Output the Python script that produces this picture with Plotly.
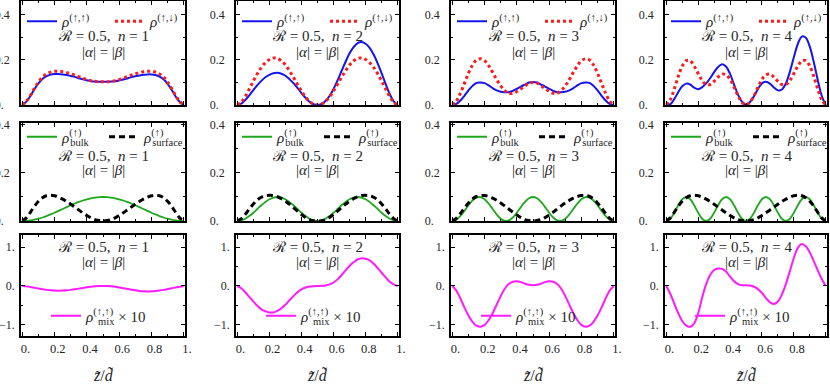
import plotly.graph_objects as go

# ---------------- data ----------------
z = [0.0, 0.025, 0.05, 0.075, 0.1, 0.125, 0.15, 0.175, 0.2, 0.225, 0.25, 0.275, 0.3, 0.325, 0.35,
     0.375, 0.4, 0.425, 0.45, 0.475, 0.5, 0.525, 0.55, 0.575, 0.6, 0.625, 0.65, 0.675, 0.7, 0.725,
     0.75, 0.775, 0.8, 0.825, 0.85, 0.875, 0.9, 0.925, 0.95, 0.975, 1.0]

n_values = [1, 2, 3, 4]
xtick_vals = [0, 0.2, 0.4, 0.6, 0.8, 1.0]
xtick_text = ["0.", "0.2", "0.4", "0.6", "0.8", "1."]
rho_tick_vals = [0, 0.2, 0.4]
rho_tick_text = ["0.", "0.2", "0.4"]
mix_tick_vals = [-1, 0, 1]
mix_tick_text = ["\u22121.", "0.", "1."]

# n = 1
uu_n1 = [0, .015, .040, .070, .096, .116, .128, .135, .138, .138, .136, .133, .129, .125, .119, .114, .110, .106, .104, .103, .103,
         .103, .104, .106, .109, .113, .118, .124, .128, .131, .134, .136, .136, .133, .126, .114, .094, .068, .038, .014, 0]
ud_n1 = [0, .016, .042, .074, .102, .124, .138, .146, .150, .150, .148, .144, .139, .133, .126, .119, .113, .108, .105, .103, .103,
         .103, .105, .108, .113, .119, .126, .133, .139, .144, .148, .150, .150, .146, .138, .124, .102, .074, .042, .016, 0]
bulk_n1 = [0, .0006, .0024, .0055, .0095, .0146, .0206, .0273, .0345, .0422, .05, .0578, .0655, .0727, .0794, .0854, .0905, .0946, .0976, .0994, .1,
           .0994, .0976, .0946, .0905, .0854, .0794, .0727, .0655, .0578, .05, .0422, .0345, .0273, .0206, .0146, .0095, .0055, .0024, .0006, 0]
surf_n1 = [0, .013, .036, .061, .082, .097, .105, .107, .105, .099, .091, .081, .070, .058, .046, .034, .023, .013, .006, .002, 0,
           .002, .006, .013, .023, .034, .046, .058, .070, .081, .091, .099, .105, .107, .105, .097, .082, .061, .036, .013, 0]
mix_n1 = [0, -.010, -.025, -.045, -.065, -.085, -.100, -.112, -.118, -.120, -.118, -.112, -.100, -.085, -.068, -.050, -.033, -.018, -.007, -.002, 0,
          -.002, -.008, -.020, -.037, -.056, -.076, -.095, -.112, -.126, -.136, -.140, -.138, -.130, -.117, -.100, -.080, -.059, -.038, -.018, 0]

# n = 2
uu_n2 = [0, .006, .022, .043, .066, .088, .107, .123, .134, .141, .143, .139, .130, .115, .097, .076, .053, .032, .0145, .0035, 0,
         .0045, .0175, .040, .071, .109, .151, .192, .230, .257, .275, .280, .272, .254, .224, .185, .140, .093, .049, .016, 0]
ud_n2 = [0, .012, .038, .071, .106, .139, .167, .188, .202, .209, .207, .196, .178, .152, .123, .092, .062, .036, .016, .004, 0,
         .004, .016, .036, .062, .092, .123, .152, .178, .196, .207, .209, .202, .188, .167, .139, .106, .071, .038, .012, 0]
bulk_n2 = [0, .0024, .0095, .0206, .0345, .05, .0655, .0794, .0905, .0976, .1, .0976, .0905, .0794, .0655, .05, .0345, .0206, .0095, .0024, 0,
           .0024, .0095, .0206, .0345, .05, .0655, .0794, .0905, .0976, .1, .0976, .0905, .0794, .0655, .05, .0345, .0206, .0095, .0024, 0]
surf_n2 = [0, .010, .028, .050, .071, .088, .099, .105, .107, .106, .101, .093, .083, .070, .056, .041, .027, .015, .006, .001, 0,
           .001, .006, .015, .027, .041, .056, .070, .083, .093, .101, .106, .107, .105, .099, .088, .071, .050, .028, .010, 0]
mix_n2 = [0, -.06, -.16, -.28, -.40, -.51, -.60, -.65, -.68, -.68, -.64, -.57, -.48, -.37, -.26, -.16, -.09, -.04, -.015, -.005, 0,
          .005, .015, .04, .09, .17, .28, .40, .52, .61, .68, .71, .70, .66, .57, .46, .34, .22, .11, .04, 0]

# n = 3
uu_n3 = [0, .005, .020, .041, .065, .085, .098, .100, .097, .087, .075, .065, .059, .057, .057, .063, .072, .082, .091, .100, .102,
         .100, .091, .082, .072, .063, .057, .057, .059, .065, .075, .087, .097, .100, .098, .085, .065, .041, .020, .005, 0]
ud_n3 = [0, .017, .052, .096, .141, .177, .200, .205, .197, .175, .145, .113, .085, .064, .052, .052, .060, .072, .085, .097, .100,
         .097, .085, .072, .060, .052, .052, .064, .085, .113, .145, .175, .197, .205, .200, .177, .141, .096, .052, .017, 0]
bulk_n3 = [0, .0055, .0206, .0422, .0655, .0854, .0976, .0994, .0905, .0727, .05, .0273, .0095, .0006, .0024, .0146, .0345, .0578, .0794, .0946, .1,
           .0946, .0794, .0578, .0345, .0146, .0024, .0006, .0095, .0273, .05, .0727, .0905, .0994, .0976, .0854, .0655, .0422, .0206, .0055, 0]
surf_n3 = [0, .011, .031, .054, .075, .092, .102, .106, .106, .102, .095, .086, .075, .063, .050, .037, .025, .014, .006, .002, 0,
           .002, .006, .014, .025, .037, .050, .063, .075, .086, .095, .102, .106, .106, .102, .092, .075, .054, .031, .011, 0]
mix_n3 = [0, -.12, -.32, -.55, -.76, -.92, -1.02, -1.05, -1.00, -.88, -.70, -.48, -.26, -.07, .05, .11, .12, .10, .06, .03, .02,
          .03, .06, .10, .12, .11, .05, -.07, -.26, -.48, -.70, -.88, -1.00, -1.05, -1.02, -.92, -.76, -.55, -.32, -.12, 0]

# n = 4
uu_n4 = [0, .003, .026, .057, .083, .095, .091, .077, .070, .079, .096, .119, .146, .169, .181, .171, .138, .091, .046, .014, .002,
         .013, .039, .071, .096, .103, .095, .078, .065, .069, .096, .147, .212, .271, .304, .299, .259, .191, .111, .041, 0]
ud_n4 = [0, .023, .071, .127, .173, .197, .196, .173, .140, .109, .091, .091, .105, .124, .137, .134, .114, .079, .041, .012, 0,
         .012, .041, .079, .114, .134, .137, .124, .105, .091, .091, .109, .140, .173, .196, .197, .173, .127, .071, .023, 0]
bulk_n4 = [0, .0095, .0345, .0655, .0905, .1, .0905, .0655, .0345, .0095, 0, .0095, .0345, .0655, .0905, .1, .0905, .0655, .0345, .0095, 0,
           .0095, .0345, .0655, .0905, .1, .0905, .0655, .0345, .0095, 0, .0095, .0345, .0655, .0905, .1, .0905, .0655, .0345, .0095, 0]
surf_n4 = [0, .013, .036, .061, .082, .097, .105, .107, .105, .099, .091, .081, .070, .058, .046, .034, .023, .013, .006, .002, 0,
           .002, .006, .013, .023, .034, .046, .058, .070, .081, .091, .099, .105, .107, .105, .097, .082, .061, .036, .013, 0]
mix_n4 = [0, -.20, -.45, -.70, -.90, -1.02, -1.05, -.96, -.70, -.30, .05, .28, .41, .45, .44, .37, .24, .12, .05, .02, .02,
          .01, -.02, -.08, -.18, -.31, -.42, -.46, -.40, -.22, .05, .38, .72, .98, 1.08, 1.02, .86, .64, .40, .18, 0]

uu_all = [uu_n1, uu_n2, uu_n3, uu_n4]
ud_all = [ud_n1, ud_n2, ud_n3, ud_n4]
bulk_all = [bulk_n1, bulk_n2, bulk_n3, bulk_n4]
surf_all = [surf_n1, surf_n2, surf_n3, surf_n4]
mix_all = [mix_n1, mix_n2, mix_n3, mix_n4]

# ---------------- layout geometry ----------------
W, H = 830, 384
col_px = [(21, 185), (236, 399), (451, 615), (665, 827)]
row_px = [(1, 105), (123, 221), (235, 336)]
row_ranges = [[0, 0.462], [0, 0.408], [-1.285, 1.31]]

FONT = "Liberation Serif, DejaVu Serif, serif"
TXT = "#262626"

BLUE = "#1414f0"
RED = "#ff1a1a"
GREEN = "#1fa81f"
BLACK = "#000000"
MAGENTA = "#ff1aff"

FIG_SP = "\u2007"   # digit-wide space, keeps decimal points aligned
EN_SP = "\u2002"

def px_x(p):
    return p / W

def px_y(p):
    return 1 - p / H

stack = '<span style="letter-spacing:{}px">\u00a0</span>'
lab_uu = "<i>ρ</i><sup>(↑,↑)</sup>"
lab_ud = "<i>ρ</i><sup>(↑,↓)</sup>"
lab_bulk = "<i>ρ</i><sup>(↑)</sup>" + stack.format(-15) + "<sub>bulk</sub>"
lab_surf = "<i>ρ</i><sup>(↑)</sup>" + stack.format(-15) + "<sub>surface</sub>"
lab_mix = "<i>ρ</i><sup>(↑,↑)</sup>" + stack.format(-19) + "<sub>mix</sub>\u00a0× 10"

rho_tick_shown = [t + FIG_SP if len(t) == 2 else t for t in rho_tick_text]
x_tick_shown = [EN_SP + t for t in xtick_text]

fig = go.Figure()
layout = dict(width=W, height=H, margin=dict(l=0, r=0, t=0, b=0, autoexpand=False),
              paper_bgcolor="white", plot_bgcolor="white",
              font=dict(family=FONT, size=12, color=TXT), showlegend=True)
annotations = []

idx = 0
for r in range(3):
    for c in range(4):
        idx += 1
        xs = "x" if idx == 1 else f"x{idx}"
        ys = "y" if idx == 1 else f"y{idx}"
        xa = "xaxis" if idx == 1 else f"xaxis{idx}"
        ya = "yaxis" if idx == 1 else f"yaxis{idx}"
        lg = "legend" if idx == 1 else f"legend{idx}"
        x0, x1 = col_px[c]
        y0, y1 = row_px[r]
        layout[xa] = dict(domain=[px_x(x0), px_x(x1)], range=[-0.008, 1.008], anchor=ys,
                          showline=True, linecolor="black", linewidth=1.6, mirror="ticks",
                          ticks="inside", ticklen=4, tickwidth=1, tickcolor="black",
                          tickmode="array", tickvals=xtick_vals, ticktext=x_tick_shown,
                          showticklabels=(r == 2), showgrid=False, zeroline=False,
                          tickfont=dict(family=FONT, size=12.5, color=TXT),
                          minor=dict(ticks="inside", ticklen=2, tickcolor="black",
                                     tickvals=[0.1, 0.3, 0.5, 0.7, 0.9]))
        if r < 2:
            tv, tt = rho_tick_vals, rho_tick_shown
            mv = [0.1, 0.3]
            stand = 7
        else:
            tv, tt = mix_tick_vals, mix_tick_text
            mv = [-0.5, 0.5]
            stand = 2
        layout[ya] = dict(domain=[px_y(y1), px_y(y0)], range=row_ranges[r], anchor=xs,
                          showline=True, linecolor="black", linewidth=1.6, mirror="ticks",
                          ticks="inside", ticklen=4, tickwidth=1, tickcolor="black",
                          tickmode="array", tickvals=tv, ticktext=tt, ticklabelstandoff=stand,
                          showgrid=False, zeroline=False,
                          tickfont=dict(family=FONT, size=12, color=TXT),
                          minor=dict(ticks="inside", ticklen=2, tickcolor="black", tickvals=mv))
        n = n_values[c]
        if r == 0:
            fig.add_trace(go.Scatter(x=z, y=uu_all[c], mode="lines", name=lab_uu, legend=lg,
                                     line=dict(color=BLUE, width=2, shape="spline"),
                                     xaxis=xs, yaxis=ys))
            fig.add_trace(go.Scatter(x=z, y=ud_all[c], mode="lines", name=lab_ud, legend=lg,
                                     line=dict(color=RED, width=3, dash="dot", shape="spline"),
                                     xaxis=xs, yaxis=ys))
            leg_y = 21.5
            leg_x = x0 + 1
            ew = 43
        elif r == 1:
            fig.add_trace(go.Scatter(x=z, y=bulk_all[c], mode="lines", name=lab_bulk, legend=lg,
                                     line=dict(color=GREEN, width=1.8, shape="spline"),
                                     xaxis=xs, yaxis=ys))
            fig.add_trace(go.Scatter(x=z, y=surf_all[c], mode="lines", name=lab_surf, legend=lg,
                                     line=dict(color=BLACK, width=3, dash="6px,4px", shape="spline"),
                                     xaxis=xs, yaxis=ys))
            leg_y = 137
            leg_x = x0 + 1
            ew = 37
        else:
            fig.add_trace(go.Scatter(x=z, y=mix_all[c], mode="lines", name=lab_mix, legend=lg,
                                     line=dict(color=MAGENTA, width=2, shape="spline"),
                                     xaxis=xs, yaxis=ys))
            leg_y = 316
            leg_x = x0 + 25
            ew = None
        leg = dict(x=px_x(leg_x), y=px_y(leg_y), xanchor="left", yanchor="middle",
                   orientation="h", bgcolor="rgba(0,0,0,0)", borderwidth=0,
                   font=dict(family=FONT, size=15, color=TXT), itemwidth=30,
                   traceorder="normal", tracegroupgap=0)
        if ew:
            leg["entrywidth"] = ew
            leg["entrywidthmode"] = "pixels"
        layout[lg] = leg

        # panel parameter labels
        cx = px_x((x0 + x1) / 2)
        l1 = [36, 156.5, 246.5][r]
        l2 = [51.5, 170, 261.5][r]
        annotations.append(dict(xref="paper", yref="paper", x=cx, y=px_y(l1),
                                text=f"ℛ = 0.5,  <i>n</i> = {n}", showarrow=False,
                                xanchor="center", yanchor="middle",
                                font=dict(family=FONT, size=15, color=TXT)))
        annotations.append(dict(xref="paper", yref="paper", x=cx, y=px_y(l2),
                                text="|<i>α</i>| = |<i>β</i>|", showarrow=False,
                                xanchor="center", yanchor="middle",
                                font=dict(family=FONT, size=15, color=TXT)))
        if r == 2:
            annotations.append(dict(xref="paper", yref="paper", x=cx, y=px_y(375),
                                    text="<i>z\u0303</i>/<i>d\u0303</i>", showarrow=False,
                                    xanchor="center", yanchor="middle",
                                    font=dict(family=FONT, size=16, color=TXT)))

layout["annotations"] = annotations
fig.update_layout(**layout)
fig.write_html("out.html",
               config={"displayModeBar": False},
               post_script="document.body.style.margin='0px';"
                           "document.body.style.padding='0px';"
                           "document.documentElement.style.overflow='hidden';")
